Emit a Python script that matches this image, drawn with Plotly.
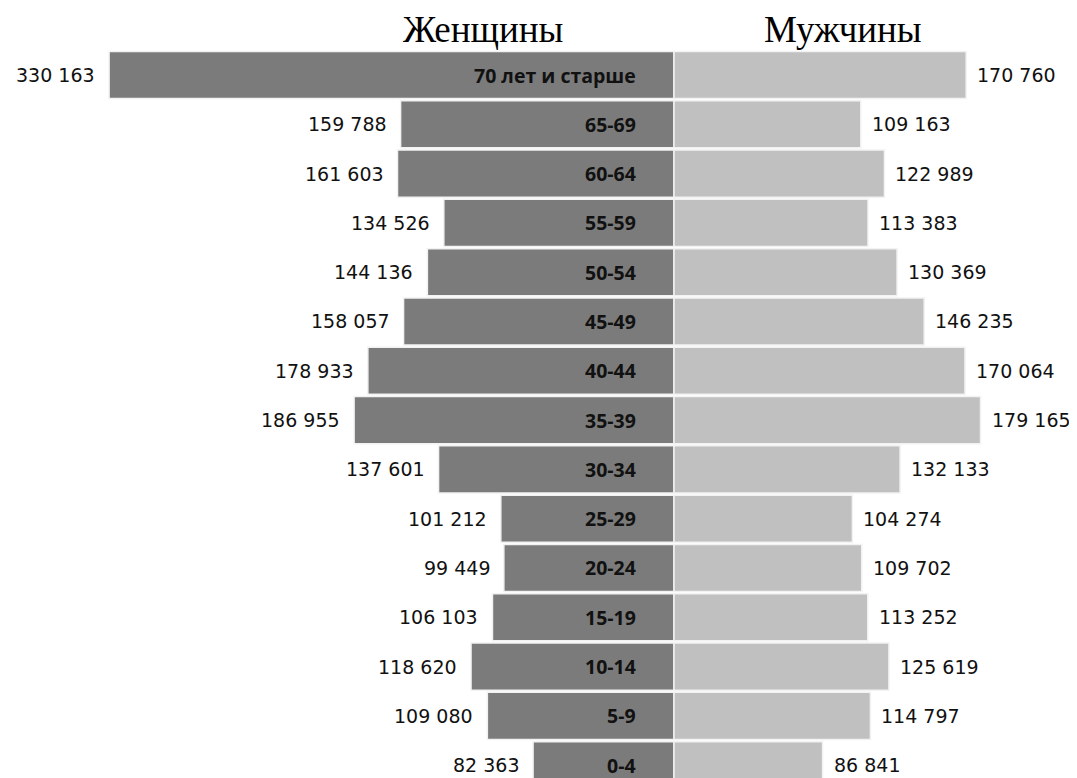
import plotly.graph_objects as go

ages = ["0-4", "5-9", "10-14", "15-19", "20-24", "25-29", "30-34", "35-39",
        "40-44", "45-49", "50-54", "55-59", "60-64", "65-69", "70 лет и старше"]
women = [82363, 109080, 118620, 106103, 99449, 101212, 137601, 186955,
         178933, 158057, 144136, 134526, 161603, 159788, 330163]
men = [86841, 114797, 125619, 113252, 109702, 104274, 132133, 179165,
       170064, 146235, 130369, 113383, 122989, 109163, 170760]
titles = ["Женщины", "Мужчины"]


def fmt(v):
    return f"{v:,}".replace(",", " ")


# page body has an 8px margin; the figure fills the rest of the 1077x778 window
W, H = 1069, 770
CX = 666          # pixel position of the zero line inside the figure
TOP = 32
PLOT_H = H - TOP

fig = go.Figure()
fig.add_trace(go.Bar(
    y=ages, x=[-v for v in women], orientation="h",
    marker=dict(color="#7b7b7b", line=dict(color="#f2f2f2", width=1.5)),
    hoverinfo="skip", showlegend=False,
))
fig.add_trace(go.Bar(
    y=ages, x=men, orientation="h",
    marker=dict(color="#c0c0c0", line=dict(color="#f2f2f2", width=1.5)),
    hoverinfo="skip", showlegend=False,
))

annotations = []
val_font = dict(family="DejaVu Sans", size=19, color="#111111")
for a, w, m in zip(ages, women, men):
    annotations.append(dict(x=-w, y=a, text=fmt(w), xanchor="right", yanchor="middle",
                            xshift=-12, showarrow=False, font=val_font))
    annotations.append(dict(x=m, y=a, text=fmt(m), xanchor="left", yanchor="middle",
                            xshift=9, showarrow=False, font=val_font))
    annotations.append(dict(x=0, y=a, text=f"<b>{a}</b>", xanchor="right", yanchor="middle",
                            xshift=-36, showarrow=False,
                            font=dict(family="Open Sans", size=19.5, color="#111111")))

for t, px in zip(titles, [475, 835]):
    annotations.append(dict(xref="paper", yref="paper", x=px / W, y=1 + 11 / PLOT_H,
                            text=t, showarrow=False, xanchor="center", yanchor="middle",
                            borderpad=0,
                            font=dict(family="Liberation Serif", size=37, color="#000")))

scale = 0.001711
fig.update_layout(
    width=W, height=H,
    margin=dict(l=0, r=0, t=TOP, b=0),
    barmode="overlay", bargap=0.045,
    plot_bgcolor="white", paper_bgcolor="white",
    xaxis=dict(range=[-CX / scale, (W - CX) / scale], showticklabels=False,
               showgrid=False, zeroline=False, fixedrange=True),
    yaxis=dict(range=[-0.26, 14.71], showticklabels=False, showgrid=False,
               zeroline=False, type="category", fixedrange=True),
    annotations=annotations,
)
fig.write_html("out.html")
